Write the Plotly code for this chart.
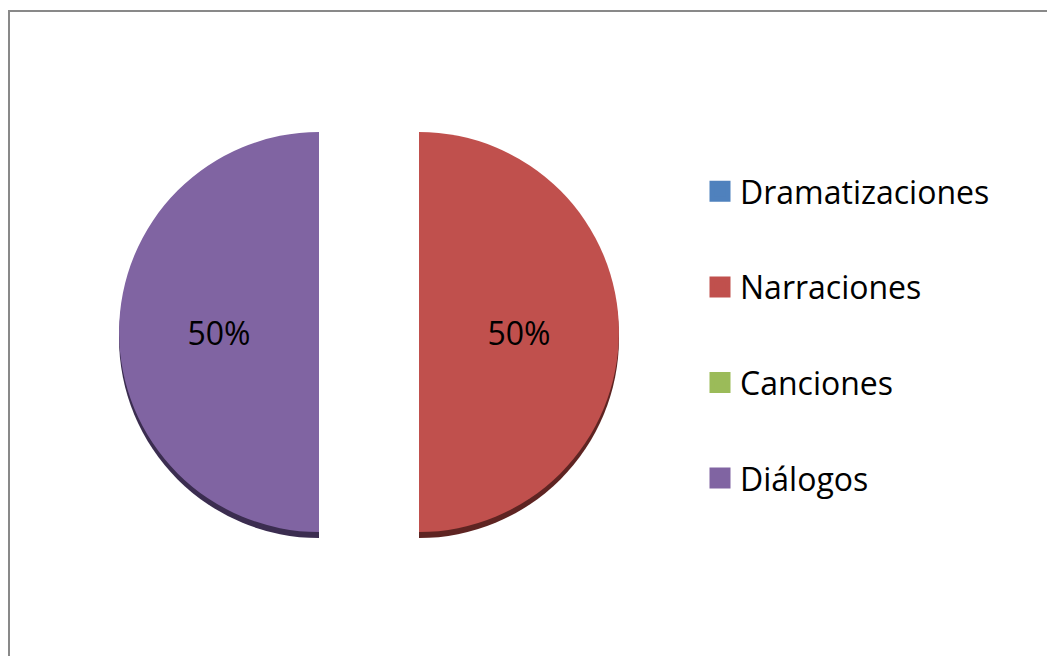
import plotly.graph_objects as go

categories = ["Dramatizaciones", "Narraciones", "Canciones", "Diálogos"]
values = [0, 50, 0, 50]
colors = ["#4F81BD", "#C0504D", "#9BBB59", "#8064A2"]
shadow_colors = ["#2a4466", "#5e2422", "#4e5e2c", "#3b2d50"]

W, H = 1047, 656
total = sum(values)
texts = [f"{v / total * 100:.0f}%" if v > 0 else "" for v in values]

cx, cy, r, pull = 369, 332, 200, 0.25
half = r * (1 + pull)
dom_x = [(cx - half) / W, (cx + half) / W]
dom_y = [(H - cy - half) / H, (H - cy + half) / H]
sh = 6 / H

fig = go.Figure()

# shadow (3D edge)
fig.add_trace(go.Pie(
    labels=categories, values=values, sort=False, direction="clockwise", rotation=0,
    pull=[pull] * len(values), marker=dict(colors=shadow_colors, line=dict(width=0)),
    textinfo="none", hoverinfo="skip", showlegend=False,
    domain=dict(x=dom_x, y=[dom_y[0] - sh, dom_y[1] - sh]),
))

fig.add_trace(go.Pie(
    labels=categories, values=values, sort=False, direction="clockwise", rotation=0,
    pull=[pull] * len(values), marker=dict(colors=colors, line=dict(width=0)),
    text=texts, textinfo="text", textposition="inside", insidetextorientation="horizontal",
    textfont=dict(family="Open Sans", size=32, color="black"),
    showlegend=False, domain=dict(x=dom_x, y=dom_y),
))

for i, (c, col) in enumerate(zip(categories, colors)):
    fig.add_trace(go.Scatter(
        x=[None], y=[None], mode="markers", name=c, legendgroup=f"g{i}",
        marker=dict(symbol="square", size=16, color=col, line=dict(color=col, width=5)),
    ))

fig.update_layout(
    width=W, height=H, margin=dict(l=0, r=0, t=0, b=0),
    paper_bgcolor="white", plot_bgcolor="white",
    xaxis=dict(visible=False), yaxis=dict(visible=False),
    legend=dict(x=700 / W, y=1 - 164 / H, xanchor="left", yanchor="top",
                font=dict(family="Open Sans", size=32, color="black"),
                tracegroupgap=51, bgcolor="rgba(0,0,0,0)"),
    shapes=[dict(type="rect", xref="paper", yref="paper",
                 x0=9 / W, x1=1.05, y0=-0.05, y1=1 - 11 / H,
                 line=dict(color="#898989", width=2))],
)

fig.write_html("out.html", post_script="document.body.style.margin='0';",
               config={"displayModeBar": False})
